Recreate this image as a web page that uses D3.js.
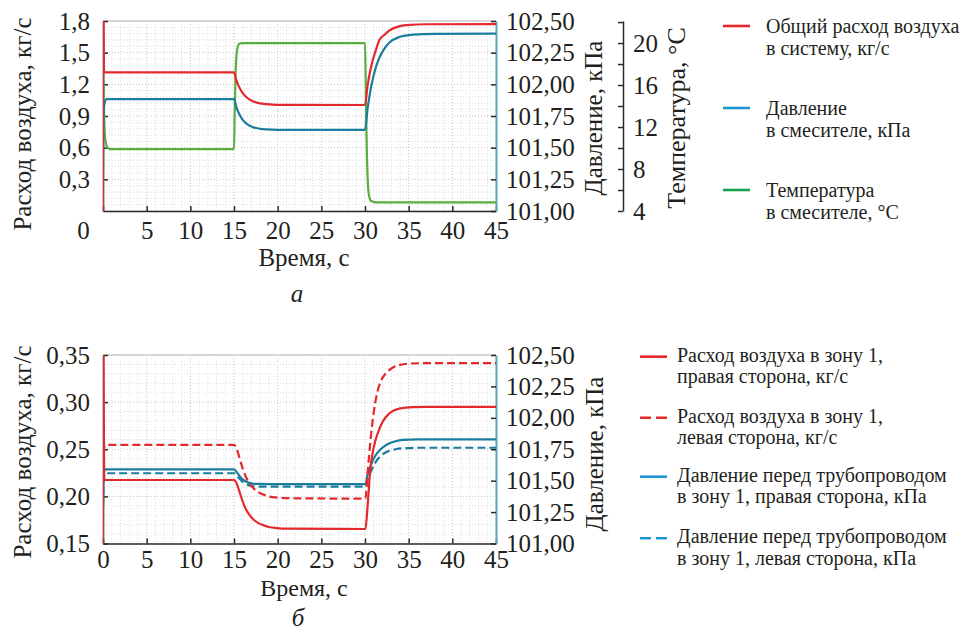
<!DOCTYPE html>
<html><head><meta charset="utf-8">
<script src="https://cdn.jsdelivr.net/npm/d3@7"></script>
<style>
body{margin:0;background:#fff;}
svg text{fill:#231f20;}
</style></head><body><svg id="c" width="972" height="630"></svg>
<script>
// ---------- DATA ----------
const timeTicks = [0,5,10,15,20,25,30,35,40,45];
const flowTicksA = [0.3,0.6,0.9,1.2,1.5,1.8];
const flowTicksB = [0.15,0.20,0.25,0.30,0.35];
const pressTicks = [101.00,101.25,101.50,101.75,102.00,102.25,102.50];
const tempTicks = [4,6,8,10,12,14,16,18,20,22];
const tempLabelTicks = [4,8,12,16,20];

// Chart а
const aFlowT = [0,0.02,0.12,15.0,15.2,15.5,16.0,16.5,17.1,18.0,18.7,20.0,30.0,30.3,30.7,31.2,31.65,32.2,32.8,33.9,35.1,37.0,45];
const aFlow  = [0,2.4,1.314,1.314,1.257,1.19,1.117,1.073,1.042,1.019,1.012,1.005,1.004,1.19,1.367,1.513,1.62,1.667,1.711,1.749,1.764,1.769,1.771];
const aPressT = [0,0.05,0.15,0.4,15.0,15.3,15.6,16.0,16.5,17.1,18.0,18.7,20.0,30.0,30.3,30.7,31.2,31.65,32.2,32.8,33.9,35.5,38.0,45];
const aPress  = [101.30,101.70,101.84,101.884,101.884,101.815,101.765,101.72,101.686,101.664,101.649,101.644,101.641,101.64,101.81,101.98,102.125,102.21,102.28,102.33,102.373,102.393,102.399,102.40];
const aTempT = [0,0.05,0.12,0.2,0.35,0.55,0.8,15.0,15.08,15.18,15.3,15.45,15.65,16.0,30.0,30.08,30.18,30.3,30.45,30.7,31.2,45];
const aTemp  = [20.1,17.0,13.5,11.4,10.4,10.0,9.9,9.9,13.5,17.0,19.0,19.7,19.95,20.0,20.0,16.5,11.0,7.2,5.5,4.95,4.83,4.83];

// Chart б
const bFlowRT = [0,0.02,0.15,15.0,15.3,15.7,16.0,16.4,16.8,17.2,17.7,18.3,19.0,19.9,21.0,30.05,30.3,30.6,31.0,31.5,32.0,32.8,33.9,35.5,37.0,45];
const bFlowR  = [0.10,0.40,0.2174,0.2174,0.2138,0.2028,0.1945,0.1857,0.180,0.1758,0.1722,0.1696,0.1675,0.1664,0.1658,0.1654,0.190,0.228,0.252,0.268,0.279,0.2882,0.2931,0.2947,0.2949,0.2949];
const bFlowLT = [0,0.1,0.4,15.0,15.3,15.7,16.0,16.4,16.8,17.2,17.7,18.3,19.0,19.9,21.0,30.05,30.3,30.75,31.3,31.8,32.4,33.0,33.6,35.1,37.0,45];
const bFlowL  = [0.245,0.251,0.2546,0.2546,0.2506,0.2386,0.2295,0.2198,0.2136,0.209,0.205,0.2022,0.1999,0.1987,0.1981,0.1976,0.225,0.2705,0.3058,0.322,0.3307,0.3355,0.3384,0.3409,0.3413,0.3413];
const bPressRT = [0,0.05,0.15,0.3,15.0,15.3,15.7,16.0,16.4,17.0,17.6,19.0,30.05,30.3,30.75,31.2,31.7,32.2,32.8,33.5,34.3,36.0,45];
const bPressR  = [101.29,101.50,101.58,101.59,101.59,101.568,101.532,101.51,101.492,101.479,101.474,101.473,101.473,101.55,101.638,101.70,101.744,101.773,101.797,101.814,101.824,101.829,101.829];
const bPressLT = [0,0.05,0.15,0.3,15.0,15.3,15.7,16.0,16.4,17.0,17.6,19.0,30.05,30.3,30.75,31.2,31.7,32.2,32.8,33.5,34.3,36.0,45];
const bPressL  = [101.29,101.47,101.55,101.559,101.559,101.54,101.511,101.49,101.473,101.458,101.453,101.452,101.452,101.51,101.585,101.645,101.69,101.718,101.738,101.75,101.757,101.762,101.762];

const legendA = [
  ["Общий расход воздуха","в систему, кг/с"],
  ["Давление","в смесителе, кПа"],
  ["Температура","в смесителе, °С"]
];
const legendB = [
  ["Расход воздуха в зону 1,","правая сторона, кг/с"],
  ["Расход воздуха в зону 1,","левая сторона, кг/с"],
  ["Давление перед трубопроводом","в зону 1, правая сторона, кПа"],
  ["Давление перед трубопроводом","в зону 1, левая сторона, кПа"]
];

// ---------- FONT ----------
const FF='"Liberation Serif","Times New Roman","DejaVu Serif",serif';

// ---------- STYLE ----------
const RED="#e4282e", TEAL="#1b7d9d", GREEN="#5aae3f";
const LRED="#e8262b", LBLUE="#1e96d4", LGREEN="#19a24c";
const AXISC="#2a2a2a", RAXIS="#5aa6bb";
const FS=25;

const svg=d3.select("#c").attr("font-family",FF);
const zip=(t,v)=>t.map((d,i)=>[d,v[i]]);
const comma=(d,n)=>d.toFixed(n).replace(".",",");

function styleAxis(a,domainColor){
  a.attr("font-family",FF);
  a.selectAll("text").attr("font-size",FS).attr("font-family",FF).attr("fill","#231f20");
  a.select(".domain").attr("stroke",domainColor||AXISC).attr("stroke-width",domainColor?2:1.5);
  a.selectAll(".tick line").attr("stroke",AXISC).attr("stroke-width",1.5);
}

function panel(o){
  const x=d3.scaleLinear().domain([0,45]).range([o.x0,o.x1]);
  const yL=d3.scaleLinear().domain(o.leftDomain).range([o.yb,o.yt]);
  const yR=d3.scaleLinear().domain([101,102.5]).range([o.yb,o.yt]);
  const g=svg.append("g");
  const cid="clip"+o.id;
  svg.append("defs").append("clipPath").attr("id",cid).append("rect")
    .attr("x",o.x0).attr("y",o.yt).attr("width",o.x1-o.x0).attr("height",o.yb-o.yt);
  const gx=g.append("g");
  x.ticks(45).forEach(t=>{
    gx.append("line").attr("x1",x(t)).attr("x2",x(t)).attr("y1",o.yt).attr("y2",o.yb)
      .attr("stroke", t%5===0?"#c4c4c4":"#dedede").attr("stroke-width",1).attr("stroke-dasharray","1,2");
  });
  const [l0,l1]=o.leftDomain, nMinor=o.minorCount;
  d3.range(nMinor+1).forEach(i=>{
    const v=l0+(l1-l0)*i/nMinor;
    const major = i%5===0;
    gx.append("line").attr("x1",o.x0).attr("x2",o.x1).attr("y1",yL(v)).attr("y2",yL(v))
      .attr("stroke", major?"#c4c4c4":"#dedede").attr("stroke-width",1).attr("stroke-dasharray","1,2");
  });
  g.append("line").attr("x1",o.x0).attr("x2",o.x1).attr("y1",o.yt).attr("y2",o.yt)
    .attr("stroke","#d6d6d6").attr("stroke-width",2);
  const ax=g.append("g").attr("transform",`translate(0,${o.yb})`)
    .call(d3.axisBottom(x).tickValues(timeTicks).tickSizeInner(-5).tickSizeOuter(0).tickPadding(o.xPad));
  styleAxis(ax);
  ax.selectAll("text").attr("dx",d=> (d===0 && o.zeroShift)? o.zeroShift : 0);
  const ay=g.append("g").attr("transform",`translate(${o.x0},0)`)
    .call(d3.axisLeft(yL).tickValues(o.leftTicks).tickSizeInner(-5).tickSizeOuter(0).tickPadding(13)
      .tickFormat(d=>comma(d,o.leftDigits)));
  styleAxis(ay);
  const ar=g.append("g").attr("transform",`translate(${o.x1},0)`)
    .call(d3.axisRight(yR).tickValues(pressTicks).tickSizeInner(-5).tickSizeOuter(0).tickPadding(10)
      .tickFormat(d=>comma(d,2)));
  styleAxis(ar,RAXIS);
  const lines=g.append("g").attr("clip-path",`url(#${cid})`);
  o.series.forEach(s=>{
    const y = s.axis==="L"?yL:(s.axis==="R"?yR:o.tempScale);
    lines.append("path").datum(zip(s.t,s.v))
      .attr("fill","none").attr("stroke",s.color).attr("stroke-width",2.2)
      .attr("stroke-dasharray",s.dash||null)
      .attr("d",d3.line().x(d=>x(d[0])).y(d=>y(d[1])).curve(d3.curveMonotoneX));
  });
  return {x,yL,yR,g};
}

const tempScale=d3.scaleLinear().domain([4,22.1]).range([211,21]);

panel({id:"A",x0:103,x1:496,yt:21,yb:211,leftDomain:[0,1.8],leftTicks:flowTicksA,leftDigits:1,
  minorCount:30,zeroShift:-20,xPad:10,tempScale,
  series:[
    {t:aTempT,v:aTemp,color:GREEN,axis:"T"},
    {t:aPressT,v:aPress,color:TEAL,axis:"R"},
    {t:aFlowT,v:aFlow,color:RED,axis:"L"}
  ]});

panel({id:"B",x0:103,x1:496,yt:355,yb:543.5,leftDomain:[0.15,0.35],leftTicks:flowTicksB,leftDigits:2,
  minorCount:20,zeroShift:0,xPad:7,tempScale,
  series:[
    {t:bPressLT,v:bPressL,color:TEAL,axis:"R",dash:"8,4"},
    {t:bPressRT,v:bPressR,color:TEAL,axis:"R"},
    {t:bFlowLT,v:bFlowL,color:RED,axis:"L",dash:"8,4"},
    {t:bFlowRT,v:bFlowR,color:RED,axis:"L"}
  ]});

const at=svg.append("g").attr("transform","translate(623,0)")
  .call(d3.axisRight(tempScale).tickValues(tempTicks).tickSizeInner(-5).tickSizeOuter(0).tickPadding(10)
    .tickFormat(d=>tempLabelTicks.includes(d)?d:""));
styleAxis(at);

function vtitle(x,y,txt,fs){
  svg.append("text").attr("transform",`translate(${x},${y}) rotate(-90)`)
    .attr("text-anchor","middle").attr("font-size",fs||FS).attr("font-family",FF).text(txt);
}
vtitle(31,124,"Расход воздуха, кг/с");
vtitle(602,118,"Давление, кПа");
vtitle(685,118,"Температура, °С",26);
vtitle(31,452,"Расход воздуха, кг/с");
vtitle(603,454,"Давление, кПа");
function htitle(x,y,txt,italic,fs){
  svg.append("text").attr("x",x).attr("y",y).attr("text-anchor","middle").attr("font-size",fs||FS)
    .attr("font-family",FF).attr("font-style",italic?"italic":null).text(txt);
}
htitle(304,266,"Время, с");
htitle(297,302,"а",true);
htitle(304,595.5,"Время, с",false,24);
htitle(298,626,"б",true);

function legend(items,colors,dashes,sx0,sx1,tx,ys,d1,d2){
  items.forEach((lines,i)=>{
    const y=ys[i];
    svg.append("line").attr("x1",sx0).attr("x2",sx1).attr("y1",y).attr("y2",y)
      .attr("stroke",colors[i]).attr("stroke-width",2.6).attr("stroke-dasharray",dashes[i]||null);
    svg.append("text").attr("x",tx).attr("y",y+d1).attr("font-size",20).attr("font-family",FF).text(lines[0]);
    svg.append("text").attr("x",tx).attr("y",y+d2).attr("font-size",20).attr("font-family",FF).text(lines[1]);
  });
}
legend(legendA,[LRED,LBLUE,LGREEN],[null,null,null],723,750,766,[26,108,190],7,29);
legend(legendB,[LRED,LRED,LBLUE,LBLUE],[null,"11,5",null,"11,5"],640,667,677,[356.7,417.7,476.7,538.3],5,26.3);
</script></body></html>
